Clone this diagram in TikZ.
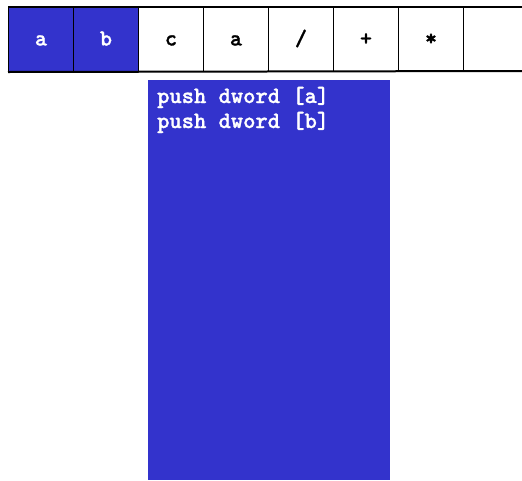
\documentclass[tikz,border=0pt]{standalone}
\usepackage{fontspec}
\newfontfamily\codefont{lmmonolt10-bold}[Extension=.otf,FakeBold=1.2]
\definecolor{cellblue}{HTML}{3333CC}
\begin{document}
\begin{tikzpicture}[x=1pt,y=-1pt,
  cell/.style={draw=black,line width=1pt,minimum width=65pt,minimum height=64pt,inner sep=0pt,
    text height=12pt,text depth=0pt,
    font=\codefont\fontsize{23}{23}\selectfont,anchor=north west},
  filled/.style={fill=cellblue,text=white},
  code/.style={font=\codefont\fontsize{23.4}{25}\selectfont,text=white,anchor=base west,inner sep=0pt}]
\useasboundingbox (0,0) rectangle (522,480);
\node[cell,filled] (c1) at (8,7) {a};
\node[cell,filled] (c2) at (73,7) {b};
\node[cell] (c3) at (138,7) {c};
\node[cell] (c4) at (203,7) {a};
\node[cell] (c5) at (268,7) {/};
\node[cell] (c6) at (333,7) {+};
\node[cell] (c7) at (398,7) {*};
\node[cell] (c8) at (463,7) {};
\draw[line width=2pt] (c1.north west) -- (522,7);
\draw[line width=2pt] (c1.south west) -- (522,71);
\node[fill=cellblue,minimum width=242pt,minimum height=400pt,inner sep=0pt,anchor=north west] (stack) at (148,80) {};
\node[code] (line1) at (157,103) {push dword [a]};
\node[code] (line2) at (157,128) {push dword [b]};
\end{tikzpicture}
\end{document}
